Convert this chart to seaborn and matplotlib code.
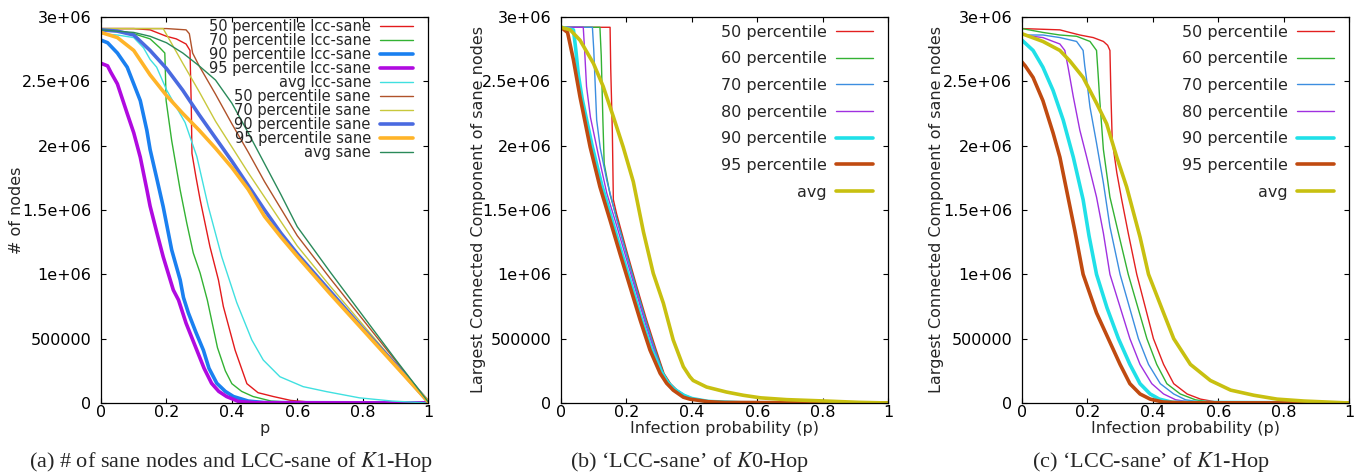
"""
plot.py
-------
Tamaño del LCC-sane frente a la probabilidad de infección p
(paneles a, b y c: K1-Hop nodos sanos, K0-Hop LCC, K1-Hop LCC).
"""

import matplotlib
matplotlib.use("Agg")
import matplotlib.pyplot as plt
import numpy as np
import pandas as pd
import seaborn as sns


# ─── Datos (valores en millones de nodos) ─────────────────────────────────────

# Panel (a): K1-Hop, LCC-sane y nodos sanos
A_LCC50_P = [0, .10, .15, .18, .20, .23, .26, .272, .276, .278, .29, .303, .333,
             .359, .374, .41, .446, .48, .527, .58, .65, 1.0]
A_LCC50_V = [2.91, 2.91, 2.90, 2.87, 2.85, 2.83, 2.79, 2.74, 2.30, 1.94, 1.76, 1.58,
             1.215, 0.956, 0.75, 0.41, 0.15, 0.08, 0.05, 0.02, 0.005, 0.0]

A_LCC70_P = [0, .05, .10, .15, .18, .195, .197, .199, .216, .242, .262, .282, .303,
             .325, .356, .38, .40, .43, .465, .52, .60, 1.0]
A_LCC70_V = [2.90, 2.89, 2.87, 2.83, 2.76, 2.72, 2.55, 2.35, 2.04, 1.655, 1.40, 1.166,
             1.01, 0.80, 0.43, 0.25, 0.15, 0.09, 0.05, 0.015, 0.003, 0.0]

A_LCC90_P = [0, .02, .05, .08, .10, .12, .14, .15, .17, .19, .216, .242, .252, .267,
             .29, .313, .33, .354, .38, .405, .45, .50, 1.0]
A_LCC90_V = [2.82, 2.80, 2.72, 2.61, 2.48, 2.35, 2.12, 1.97, 1.75, 1.526, 1.19, 0.956,
             0.82, 0.70, 0.55, 0.41, 0.27, 0.153, 0.09, 0.05, 0.015, 0.003, 0.0]

A_LCC95_P = [0, .02, .03, .05, .08, .10, .12, .14, .15, .17, .19, .221, .237, .26,
             .293, .315, .338, .36, .384, .42, .47, 1.0]
A_LCC95_V = [2.64, 2.62, 2.57, 2.48, 2.25, 2.10, 1.91, 1.66, 1.53, 1.33, 1.137, 0.878,
             0.80, 0.62, 0.41, 0.27, 0.153, 0.09, 0.05, 0.012, 0.002, 0.0]

A_LCCAVG_P = [0, .05, .10, .13, .15, .17, .201, .23, .257, .293, .328, .369, .415,
              .461, .496, .547, .618, .69, .79, .89, 1.0]
A_LCCAVG_V = [2.87, 2.86, 2.84, 2.76, 2.67, 2.61, 2.43, 2.30, 2.18, 1.915, 1.526,
              1.137, 0.78, 0.49, 0.334, 0.204, 0.127, 0.088, 0.04, 0.015, 0.0]

A_SANE50_P = [0, .10, .20, .26, .27, .28, .30, .35, .40, .45, .50, .55, .60, .70,
              .80, .90, 1.0]
A_SANE50_V = [2.91, 2.91, 2.91, 2.90, 2.87, 2.72, 2.62, 2.40, 2.17, 1.95, 1.72, 1.51,
              1.30, 0.97, 0.65, 0.33, 0.01]

A_SANE70_P = [0, .10, .19, .21, .25, .30, .35, .40, .45, .50, .55, .60, .70, .80,
              .90, 1.0]
A_SANE70_V = [2.91, 2.91, 2.91, 2.82, 2.64, 2.42, 2.19, 1.99, 1.79, 1.60, 1.41, 1.22,
              0.91, 0.61, 0.31, 0.01]

A_SANE90_P = [0, .05, .10, .15, .20, .25, .30, .35, .40, .45, .50, .55, .60, .70,
              .80, .90, 1.0]
A_SANE90_V = [2.90, 2.89, 2.86, 2.74, 2.60, 2.43, 2.24, 2.06, 1.88, 1.69, 1.50, 1.32,
              1.16, 0.87, 0.58, 0.30, 0.01]

A_SANE95_P = [0, .05, .10, .15, .20, .25, .30, .35, .40, .45, .50, .55, .60, .70,
              .80, .90, 1.0]
A_SANE95_V = [2.88, 2.84, 2.74, 2.55, 2.39, 2.25, 2.12, 1.98, 1.83, 1.66, 1.45, 1.29,
              1.14, 0.85, 0.57, 0.29, 0.01]

A_SANEAVG_P = [0, .05, .10, .15, .20, .25, .30, .35, .40, .45, .50, .55, .60, .70,
               .80, .90, 1.0]
A_SANEAVG_V = [2.90, 2.89, 2.88, 2.85, 2.80, 2.72, 2.62, 2.51, 2.33, 2.10, 1.86,
               1.62, 1.37, 1.02, 0.68, 0.34, 0.01]

# Panel (b): K0-Hop, LCC-sane
B_P50_P = [0, .150, .152, .155, .157, .160, .17, .20, .23, .26, .29, .315, .335,
           .355, .38, .41, .46, .50, .55, 1.0]
B_P50_V = [2.92, 2.92, 2.60, 2.30, 2.10, 1.58, 1.47, 1.19, 0.92, 0.66, 0.42, 0.23,
           0.15, 0.10, 0.06, 0.03, 0.012, 0.006, 0.002, 0.0]

B_P60_P = [0, .119, .123, .128, .132, .15, .17, .20, .23, .26, .29, .315, .335,
           .355, .38, .41, .46, .55, 1.0]
B_P60_V = [2.92, 2.92, 2.70, 2.20, 1.86, 1.62, 1.44, 1.17, 0.90, 0.64, 0.40, 0.22,
           0.145, 0.095, 0.055, 0.028, 0.01, 0.002, 0.0]

B_P70_P = [0, .096, .10, .109, .12, .14, .17, .20, .23, .26, .29, .315, .335, .355,
           .38, .41, .46, .55, 1.0]
B_P70_V = [2.92, 2.92, 2.75, 2.20, 1.98, 1.73, 1.43, 1.16, 0.89, 0.63, 0.39, 0.21,
           0.14, 0.09, 0.05, 0.025, 0.008, 0.002, 0.0]

B_P80_P = [0, .068, .072, .078, .09, .114, .14, .17, .20, .23, .26, .29, .315, .335,
           .355, .38, .41, .46, .55, 1.0]
B_P80_V = [2.92, 2.92, 2.75, 2.46, 2.22, 1.93, 1.63, 1.38, 1.12, 0.86, 0.60, 0.37,
           0.20, 0.13, 0.085, 0.05, 0.025, 0.008, 0.002, 0.0]

B_P90_P = [0, .038, .045, .053, .065, .095, .125, .155, .185, .215, .245, .275,
           .305, .325, .345, .375, .40, .45, .55, 1.0]
B_P90_V = [2.92, 2.90, 2.75, 2.55, 2.36, 2.0, 1.69, 1.43, 1.17, 0.92, 0.66, 0.43,
           0.25, 0.165, 0.11, 0.06, 0.035, 0.012, 0.002, 0.0]

B_P95_P = [0, .02, .038, .058, .089, .119, .15, .18, .211, .242, .272, .303, .323,
           .343, .374, .394, .45, .50, 1.0]
B_P95_V = [2.92, 2.88, 2.666, 2.38, 1.99, 1.68, 1.42, 1.163, 0.904, 0.645, 0.412,
           0.231, 0.153, 0.10, 0.045, 0.03, 0.01, 0.004, 0.0]

B_AVG_P = [0, .028, .058, .099, .129, .16, .19, .221, .252, .282, .313, .343, .374,
           .394, .404, .445, .506, .557, .61, .69, .81, .91, 1.0]
B_AVG_V = [2.92, 2.90, 2.82, 2.64, 2.46, 2.225, 1.99, 1.72, 1.33, 1.008, 0.775,
           0.49, 0.282, 0.204, 0.175, 0.124, 0.085, 0.06, 0.04, 0.026, 0.015, 0.005,
           0.0]

# Panel (c): K1-Hop, LCC-sane
C_P50_P = [0, .116, .146, .177, .218, .249, .262, .269, .272, .276, .29, .305, .325,
           .351, .402, .433, .464, .505, .546, .60, 1.0]
C_P50_V = [2.91, 2.90, 2.88, 2.86, 2.84, 2.81, 2.78, 2.74, 2.40, 2.04, 1.79, 1.58,
           1.32, 1.0, 0.5, 0.3, 0.15, 0.07, 0.03, 0.005, 0.0]

C_P60_P = [0, .064, .116, .167, .208, .228, .233, .238, .249, .269, .295, .325, .382,
           .412, .443, .484, .53, .58, 1.0]
C_P60_V = [2.91, 2.88, 2.86, 2.85, 2.81, 2.74, 2.55, 2.35, 1.97, 1.60, 1.32, 1.0,
           0.5, 0.3, 0.15, 0.07, 0.025, 0.005, 0.0]

C_P70_P = [0, .064, .116, .167, .187, .192, .198, .208, .228, .249, .269, .30, .356,
           .387, .423, .464, .50, .55, 1.0]
C_P70_V = [2.86, 2.86, 2.84, 2.81, 2.74, 2.62, 2.51, 2.30, 2.02, 1.71, 1.37, 1.0,
           0.5, 0.3, 0.15, 0.07, 0.025, 0.005, 0.0]

C_P80_P = [0, .064, .116, .131, .141, .157, .177, .198, .228, .249, .269, .33, .361,
           .397, .433, .47, .52, 1.0]
C_P80_V = [2.86, 2.84, 2.79, 2.74, 2.61, 2.38, 2.12, 1.91, 1.60, 1.32, 1.0, 0.5, 0.3,
           0.15, 0.07, 0.025, 0.005, 0.0]

C_P90_P = [0, .034, .064, .095, .126, .157, .187, .205, .228, .26, .295, .33, .361,
           .392, .42, .46, 1.0]
C_P90_V = [2.82, 2.74, 2.61, 2.43, 2.20, 1.91, 1.58, 1.30, 1.0, 0.74, 0.5, 0.3,
           0.15, 0.07, 0.03, 0.005, 0.0]

C_P95_P = [0, .01, .034, .064, .095, .116, .136, .162, .187, .228, .264, .30, .33,
           .361, .392, .43, .48, 1.0]
C_P95_V = [2.65, 2.62, 2.53, 2.35, 2.10, 1.91, 1.66, 1.335, 1.0, 0.7, 0.5, 0.3, 0.15,
           0.07, 0.03, 0.008, 0.002, 0.0]

C_AVG_P = [0, .064, .116, .146, .187, .228, .259, .29, .32, .361, .387, .433, .464,
           .515, .576, .638, .709, .78, .863, 1.0]
C_AVG_V = [2.87, 2.81, 2.74, 2.66, 2.53, 2.33, 2.17, 1.91, 1.68, 1.29, 1.0, 0.7, 0.5,
           0.3, 0.175, 0.10, 0.06, 0.03, 0.015, 0.0]

# Ejes y textos
X_TICKS = [0, 0.2, 0.4, 0.6, 0.8, 1.0]
X_TICK_LABELS = ["0", "0.2", "0.4", "0.6", "0.8", "1"]
Y_TICKS = [0, 5e5, 1e6, 1.5e6, 2e6, 2.5e6, 3e6]
Y_TICK_LABELS = ["0", "500000", "1e+06", "1.5e+06", "2e+06", "2.5e+06", "3e+06"]

CAPTIONS = [
    "(a) # of sane nodes and LCC-sane of $K$1-Hop",
    "(b) \u2018LCC-sane\u2019 of $K$0-Hop",
    "(c) \u2018LCC-sane\u2019 of $K$1-Hop",
]

# Convenciones visuales (estilo gnuplot)
THIN, THICK = 1.0, 2.6

PANEL_A = [
    ("50 percentile lcc-sane", A_LCC50_P, A_LCC50_V, "#e31a1c", THIN),
    ("70 percentile lcc-sane", A_LCC70_P, A_LCC70_V, "#33b233", THIN),
    ("90 percentile lcc-sane", A_LCC90_P, A_LCC90_V, "#1a80f0", THICK),
    ("95 percentile lcc-sane", A_LCC95_P, A_LCC95_V, "#b00ae0", THICK),
    ("avg lcc-sane", A_LCCAVG_P, A_LCCAVG_V, "#40e0e0", THIN),
    ("50 percentile sane", A_SANE50_P, A_SANE50_V, "#b0522a", THIN),
    ("70 percentile sane", A_SANE70_P, A_SANE70_V, "#c8c83c", THIN),
    ("90 percentile sane", A_SANE90_P, A_SANE90_V, "#4a6ae0", THICK),
    ("95 percentile sane", A_SANE95_P, A_SANE95_V, "#ffb428", THICK),
    ("avg sane", A_SANEAVG_P, A_SANEAVG_V, "#2a8a5a", THIN),
]

LCC_COLORS = ["#e32020", "#33b233", "#3c8ee0", "#a030e0", "#20e0e8", "#c04a10", "#c8c010"]
LCC_LABELS = ["50 percentile", "60 percentile", "70 percentile", "80 percentile",
              "90 percentile", "95 percentile", "avg"]
LCC_WIDTHS = [THIN, THIN, THIN, THIN, THICK, THICK, THICK]

PANEL_B = list(zip(LCC_LABELS,
                   [B_P50_P, B_P60_P, B_P70_P, B_P80_P, B_P90_P, B_P95_P, B_AVG_P],
                   [B_P50_V, B_P60_V, B_P70_V, B_P80_V, B_P90_V, B_P95_V, B_AVG_V],
                   LCC_COLORS, LCC_WIDTHS))
PANEL_C = list(zip(LCC_LABELS,
                   [C_P50_P, C_P60_P, C_P70_P, C_P80_P, C_P90_P, C_P95_P, C_AVG_P],
                   [C_P50_V, C_P60_V, C_P70_V, C_P80_V, C_P90_V, C_P95_V, C_AVG_V],
                   LCC_COLORS, LCC_WIDTHS))

sns.set_style("ticks")
plt.rcParams.update({
    "font.family":      ["DejaVu Sans"],
    "mathtext.fontset": "stix",
    "axes.linewidth":   0.9,
})

TICK_FS = 11.5


def draw_panel(ax, series, xlabel, ylabel, ylabel_x, legend_fs, legend_y, labelspacing):
    for label, p, v, color, lw in series:
        df = pd.DataFrame({"p": p, "n": np.asarray(v) * 1e6})
        sns.lineplot(data=df, x="p", y="n", ax=ax, color=color, lw=lw,
                     label=label, estimator=None, sort=False)

    ax.set_xlim(0, 1)
    ax.set_ylim(0, 3e6)
    ax.set_xticks(X_TICKS)
    ax.set_xticklabels(X_TICK_LABELS)
    ax.set_yticks(Y_TICKS)
    ax.set_yticklabels(Y_TICK_LABELS)
    ax.tick_params(axis="both", direction="in", top=True, right=True,
                   length=3.5, width=0.8, labelsize=TICK_FS, colors="black")
    ax.tick_params(axis="x", pad=1.5)
    ax.tick_params(axis="y", pad=7)
    for side in ax.spines.values():
        side.set_visible(True)
        side.set_color("black")

    ax.set_xlabel(xlabel, fontsize=TICK_FS, labelpad=0.5)
    ax.set_ylabel(ylabel, fontsize=TICK_FS)
    ax.yaxis.set_label_coords(ylabel_x, 0.5)

    ax.legend(loc="upper right", bbox_to_anchor=(0.954, legend_y), frameon=False,
              markerfirst=False, fontsize=legend_fs, borderpad=0, borderaxespad=0,
              handlelength=2.3, handletextpad=0.6, labelspacing=labelspacing)


fig = plt.figure(figsize=(13.69, 4.76), dpi=100)

ax_a = fig.add_axes([0.0738, 0.1534, 0.2389, 0.8109])
ax_b = fig.add_axes([0.4098, 0.1534, 0.2389, 0.8109])
ax_c = fig.add_axes([0.7465, 0.1534, 0.2389, 0.8109])

draw_panel(ax_a, PANEL_A, "p", "# of nodes", -0.235, 10.5, 0.995, -0.07)
draw_panel(ax_b, PANEL_B, "Infection probability (p)",
           "Largest Connected Component of sane nodes", -0.229, TICK_FS, 0.98, 0.73)
draw_panel(ax_c, PANEL_C, "Infection probability (p)",
           "Largest Connected Component of sane nodes", -0.239, TICK_FS, 0.98, 0.73)

for x, text in zip([0.169, 0.504, 0.841], CAPTIONS):
    fig.text(x, 0.029, text, ha="center", va="center", fontsize=16,
             family="Liberation Serif")

fig.savefig("out.png", dpi=100)
